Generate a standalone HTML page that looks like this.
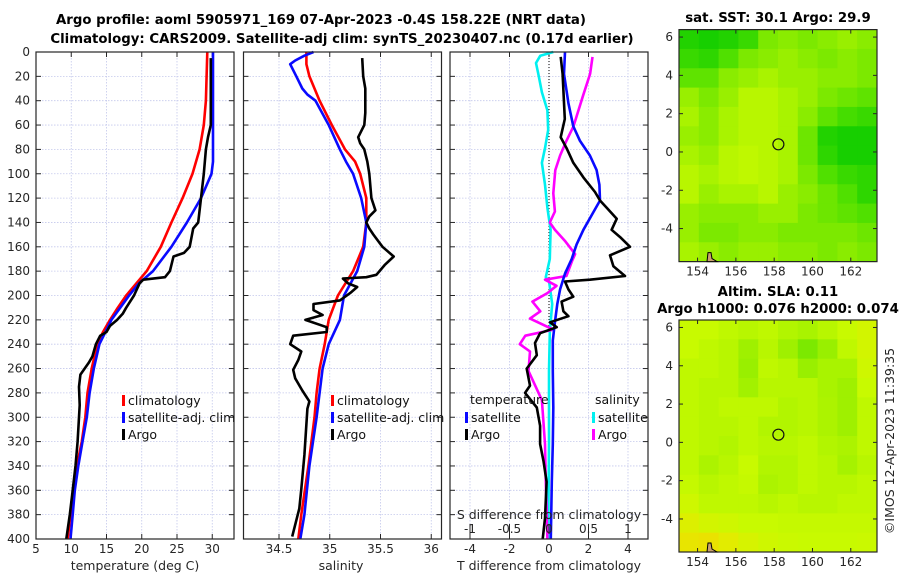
<!DOCTYPE html>
<html><head><meta charset="utf-8">
<style>
html,body{margin:0;padding:0;background:#fff;}
svg{display:block;font-family:"DejaVu Sans","Liberation Sans",sans-serif;}
.tk{font-size:12px;fill:#262626;}
.ttl{font-size:13.3px;font-weight:bold;fill:#000;}
.lg{font-size:12.5px;fill:#111;}
</style></head>
<body>
<svg id="fig" width="900" height="580" viewBox="0 0 900 580" xmlns="http://www.w3.org/2000/svg">
<text class="ttl" x="321" y="24" text-anchor="middle">Argo profile: aoml 5905971_169 07-Apr-2023 -0.4S 158.22E (NRT data)</text>
<text class="ttl" x="342" y="43" text-anchor="middle">Climatology: CARS2009. Satellite-adj clim: synTS_20230407.nc (0.17d earlier)</text>
<text class="ttl" x="778" y="22" text-anchor="middle">sat. SST: 30.1 Argo: 29.9</text>
<text class="ttl" x="778" y="296" text-anchor="middle">Altim. SLA: 0.11</text>
<text class="ttl" x="778" y="313" text-anchor="middle">Argo h1000: 0.076 h2000: 0.074</text>
<text class="tk" x="0" y="0" transform="translate(894,441) rotate(-90)" text-anchor="middle" style="font-size:12.5px">©IMOS 12-Apr-2023 11:39:35</text>
<g id="layer"></g>
</svg>
<script>
// ---------- data ----------
const depthTicks=[0,20,40,60,80,100,120,140,160,180,200,220,240,260,280,300,320,340,360,380,400];
const tempTicks=[5,10,15,20,25,30];
const salTicks=[34.5,35,35.5,36];
const salTickLabels=["34.5","35","35.5","36"];
const dTTicks=[-4,-2,0,2,4];
const dSTicks=[-1,-0.5,0,0.5,1];
const dSTickLabels=["-1","-0.5","0","0.5","1"];
const lonTicks=[154,156,158,160,162];
const latTicks=[6,4,2,0,-2,-4];

const climTDepth=[0,20,40,60,80,100,120,140,160,180,200,210,220,230,240,260,280,300,320,340,360,380,400];
const climT=[29.3,29.2,29.1,28.8,28.2,27.2,25.8,24.2,22.7,20.7,17.8,16.6,15.5,14.5,13.7,12.9,12.3,12.0,11.5,10.8,10.4,9.9,9.5];
const satTDepth=[0,20,60,90,100,120,140,160,180,190,200,220,240,260,280,300,320,340,360,380,400];
const satT=[30.1,30.1,30.1,30.1,29.9,28.4,26.4,24.2,21.6,19.6,18.2,15.7,14.0,13.2,12.6,12.2,11.6,11.0,10.5,10.2,9.9];
const argoTDepth=[5,60,70,80,100,130,140,145,160,165,168,180,185,187,190,200,210,215,220,225,230,233,240,250,255,260,265,275,290,300,320,340,360,380,400];
const argoT=[29.8,29.8,29.4,29.1,28.8,28.2,28.0,27.3,26.8,26.0,24.5,24.0,23.3,20.2,19.7,18.9,17.8,17.3,16.5,15.5,15.0,14.1,13.5,13.0,12.5,11.9,11.3,11.1,11.2,11.1,10.9,10.6,10.2,9.8,9.3];

const climSDepth=[0,10,20,40,60,80,90,100,120,140,160,180,200,220,240,260,280,300,340,380,400];
const climS=[34.77,34.77,34.8,34.9,35.02,35.15,35.25,35.3,35.36,35.36,35.33,35.23,35.08,34.99,34.95,34.9,34.87,34.85,34.79,34.72,34.69];
const satSDepth=[0,3,7,10,20,30,35,40,60,80,90,100,120,140,160,180,200,220,240,260,280,300,340,380,400];
const satS=[34.84,34.75,34.66,34.61,34.67,34.73,34.78,34.86,34.99,35.1,35.16,35.23,35.31,35.36,35.34,35.27,35.14,35.1,34.99,34.93,34.9,34.87,34.8,34.75,34.71];
const argoSDepth=[5,20,30,50,60,70,75,80,90,100,120,130,135,140,145,150,160,168,175,183,185,186,190,193,198,204,207,212,216,220,226,230,233,240,246,253,261,268,278,287,293,331,359,375,398];
const argoS=[35.32,35.33,35.35,35.35,35.34,35.28,35.3,35.34,35.37,35.39,35.41,35.45,35.39,35.36,35.39,35.43,35.52,35.63,35.54,35.46,35.36,35.13,35.18,35.27,35.2,35.1,34.84,34.84,34.93,34.76,34.97,34.97,34.64,34.61,34.72,34.69,34.64,34.66,34.73,34.8,34.78,34.75,34.72,34.7,34.63];

const argoDTDepth=[4,18,55,70,79,91,103,115,122,128,137,146,152,160,167,176,184,187,188.5,195,201,205,213,217,222,226,231,239,249,260,274,280,292,307,322,336,353,383,400];
const argoDT=[0.59,0.69,0.8,0.59,0.89,1.23,1.74,2.33,2.58,2.92,3.43,3.17,3.6,4.1,3.09,3.26,3.85,2.07,0.81,0.98,1.23,0.64,0.73,0.98,0.05,0.39,-0.45,-0.71,-0.62,-1.13,-0.96,-1.21,-0.62,-0.45,-0.45,-0.28,-0.12,-0.2,-0.32];
const satDTDepth=[0,18,42,61,73,85,97,109,122,134,146,158,170,182,195,207,222,237,262,292,322,353,400];
const satDT=[0.81,0.76,0.98,1.23,1.57,2.07,2.41,2.55,2.58,2.16,1.74,1.4,1.15,0.81,0.56,0.42,0.3,0.19,0.19,0.22,0.19,0.14,0.09];
const satDSDepth=[0,3,9,18,33,48,64,79,91,109,128,146,170,185,188,207,222,231,262,320,400];
const satDS=[0.055,-0.11,-0.165,-0.135,-0.09,-0.02,-0.01,-0.05,-0.09,-0.05,-0.02,0.02,0.01,-0.04,0.0,0.04,0.02,0.01,0.0,0.0,-0.01];
const argoDSDepth=[4,18,36,61,73,85,97,116,131,140,146,155,166,172,184,187,192,198,205,213,219,228,233,240,246,262,286,322,353,400];
const argoDS=[0.55,0.52,0.43,0.31,0.22,0.14,0.08,0.055,0.075,0.01,0.075,0.2,0.33,0.29,0.22,-0.05,0.095,-0.02,-0.21,-0.11,-0.24,0.055,-0.3,-0.37,-0.24,-0.26,-0.09,-0.05,-0.04,-0.02];

const sstGrid=[
[0.15,0.1,0.15,0.25,0.5,0.55,0.5,0.55,0.6,0.55],
[0.25,0.2,0.35,0.5,0.55,0.6,0.55,0.5,0.55,0.5],
[0.4,0.4,0.55,0.6,0.65,0.6,0.6,0.55,0.55,0.5],
[0.6,0.5,0.6,0.7,0.7,0.65,0.6,0.5,0.45,0.4],
[0.65,0.55,0.65,0.7,0.7,0.65,0.55,0.4,0.3,0.25],
[0.6,0.55,0.65,0.7,0.7,0.65,0.45,0.15,0.1,0.1],
[0.65,0.6,0.7,0.72,0.7,0.65,0.45,0.2,0.1,0.1],
[0.7,0.65,0.7,0.72,0.7,0.65,0.5,0.35,0.25,0.2],
[0.7,0.6,0.65,0.65,0.7,0.6,0.55,0.45,0.35,0.2],
[0.6,0.55,0.55,0.55,0.6,0.6,0.5,0.45,0.4,0.35],
[0.6,0.5,0.5,0.55,0.55,0.5,0.5,0.5,0.5,0.45],
[0.65,0.6,0.55,0.6,0.6,0.55,0.55,0.5,0.55,0.5]];
const slaGrid=[
[0.75,0.75,0.72,0.7,0.72,0.68,0.65,0.7,0.75,0.8],
[0.75,0.72,0.7,0.62,0.7,0.62,0.5,0.6,0.72,0.8],
[0.72,0.72,0.7,0.6,0.72,0.7,0.6,0.65,0.65,0.78],
[0.72,0.7,0.7,0.63,0.7,0.7,0.7,0.65,0.62,0.75],
[0.72,0.7,0.72,0.72,0.72,0.68,0.7,0.66,0.62,0.72],
[0.72,0.7,0.7,0.72,0.68,0.68,0.7,0.66,0.62,0.72],
[0.72,0.7,0.68,0.72,0.7,0.7,0.72,0.68,0.66,0.72],
[0.72,0.66,0.7,0.75,0.68,0.68,0.72,0.7,0.64,0.7],
[0.74,0.7,0.72,0.74,0.66,0.68,0.72,0.7,0.7,0.72],
[0.78,0.72,0.72,0.72,0.7,0.72,0.7,0.7,0.72,0.72],
[0.85,0.8,0.78,0.75,0.75,0.74,0.74,0.74,0.74,0.74],
[0.92,0.93,0.88,0.82,0.78,0.76,0.75,0.75,0.75,0.76]];
const argoLon=158.22, argoLat=0.4;

// ---------- helpers ----------
const NS="http://www.w3.org/2000/svg";
const layer=document.getElementById('layer');
function mk(tag,attrs,parent){const e=document.createElementNS(NS,tag);for(const k in attrs)e.setAttribute(k,attrs[k]);(parent||layer).appendChild(e);return e;}
const Y0=52,YS=(539-52)/400;
const yD=d=>Y0+d*YS;
const xT=t=>36+(t-5)*7.05;
const xS=s=>279+(s-34.5)*101.5;
const xDT=t=>549+t*19.75;
const xDS=s=>549+s*79;
const panels=[{l:36,r:234},{l:243.5,r:441.5},{l:450,r:648}];

function panelFrame(p,xs,xfn,labels,name){
  const g=mk('g',{});
  
  
  depthTicks.forEach(d=>{
    const l=mk('line',{x1:p.l,x2:p.r,y1:yD(d),y2:yD(d),stroke:'#c4c8ec','stroke-width':0.8,'stroke-dasharray':'1.5 1.5'},g);
    
    
    mk('line',{x1:p.l,x2:p.l+5,y1:yD(d),y2:yD(d),stroke:'#262626','stroke-width':1},g);
    mk('line',{x1:p.r-5,x2:p.r,y1:yD(d),y2:yD(d),stroke:'#262626','stroke-width':1},g);
  });
  xs.forEach((v,i)=>{
    const x=xfn(v);
    const l=mk('line',{x1:x,x2:x,y1:Y0,y2:539,stroke:'#c4c8ec','stroke-width':0.8,'stroke-dasharray':'1.5 1.5'},g);
    
    
    mk('line',{x1:x,x2:x,y1:539,y2:534,stroke:'#262626','stroke-width':1},g);
    mk('line',{x1:x,x2:x,y1:Y0,y2:Y0+5,stroke:'#262626','stroke-width':1},g);
    const t=mk('text',{x:x,y:553,'text-anchor':'middle',class:'tk'},g);
    t.textContent=labels[i];
    
    
  });
  return g;
}
function frameRect(p,name){
  const r=mk('rect',{x:p.l,y:Y0,width:p.r-p.l,height:539-Y0,fill:'none',stroke:'#262626','stroke-width':1.2});
  
  
}
function line(ds,vs,xfn,color,name,w){
  const pts=ds.map((d,i)=>xfn(vs[i]).toFixed(1)+','+yD(d).toFixed(1)).join(' ');
  const pl=mk('polyline',{points:pts,fill:'none',stroke:color,'stroke-width':w||2.6,'stroke-linejoin':'round'});
  
  
}
function text(x,y,s,cls,name,anchor){
  const t=mk('text',{x:x,y:y,class:cls,'text-anchor':anchor||'start'});
  t.textContent=s;
  
  
  return t;
}
function legendEntry(x,y,color,label){
  const g=mk('g',{});
  
  
  mk('rect',{x:x,y:y-10,width:3,height:11,fill:color},g);
  const t=mk('text',{x:x+6,y:y,class:'lg'},g);
  t.textContent=label;
}

depthTicks.forEach(d=>{ text(30,yD(d)+4,String(d),'tk','y-tick-label','end'); });

// panel 1
panelFrame(panels[0],tempTicks,xT,tempTicks.map(String),'temperature-panel');
line(climTDepth,climT,xT,'#ff0000','temperature-climatology-line');
line(satTDepth,satT,xT,'#0a0aff','temperature-satellite-line');
line(argoTDepth,argoT,xT,'#000000','temperature-argo-line');
frameRect(panels[0],'temperature-axes-box');
text(135,570,'temperature (deg C)','tk','x-axis-title-temperature','middle').style.fontSize='12.5px';
legendEntry(122,405,'#ff0000','climatology');
legendEntry(122,422,'#0a0aff','satellite-adj. clim');
legendEntry(122,439,'#000000','Argo');

// panel 2
panelFrame(panels[1],salTicks,xS,salTickLabels,'salinity-panel');
line(climSDepth,climS,xS,'#ff0000','salinity-climatology-line');
line(satSDepth,satS,xS,'#0a0aff','salinity-satellite-line');
line(argoSDepth,argoS,xS,'#000000','salinity-argo-line');
frameRect(panels[1],'salinity-axes-box');
text(341,570,'salinity','tk','x-axis-title-salinity','middle').style.fontSize='12.5px';
legendEntry(331,405,'#ff0000','climatology');
legendEntry(331,422,'#0a0aff','satellite-adj. clim');
legendEntry(331,439,'#000000','Argo');

// panel 3
panelFrame(panels[2],dTTicks,xDT,dTTicks.map(String),'difference-panel');
const zl=mk('line',{x1:xDT(0),x2:xDT(0),y1:Y0,y2:539,stroke:'#000','stroke-width':1,'stroke-dasharray':'1 2'});


line(satDSDepth,satDS,xDS,'#00f0f0','salinity-diff-satellite-line');
line(argoDSDepth,argoDS,xDS,'#ff00ff','salinity-diff-argo-line');
line(satDTDepth,satDT,xDT,'#0a0aff','temperature-diff-satellite-line');
line(argoDTDepth,argoDT,xDT,'#000000','temperature-diff-argo-line');
frameRect(panels[2],'difference-axes-box');
text(549,570,'T difference from climatology','tk','x-axis-title-t-difference','middle').style.fontSize='12.5px';
text(549,519,'S difference from climatology','tk','s-axis-title','middle').style.fontSize='12.5px';
dSTicks.forEach((v,i)=>{
  mk('line',{x1:xDS(v),x2:xDS(v),y1:524,y2:534,stroke:'#262626','stroke-width':1});
  text(xDS(v),533,dSTickLabels[i],'tk','s-tick-label','middle');
});
text(470,404,'temperature','lg','legend-title-temperature');
legendEntry(465,422,'#0a0aff','satellite');
legendEntry(465,439,'#000000','Argo');
text(595,404,'salinity','lg','legend-title-salinity');
legendEntry(592,422,'#00f0f0','satellite');
legendEntry(592,439,'#ff00ff','Argo');

// ---------- maps ----------
const cmapStops=[[0,[0,200,0]],[0.35,[80,224,0]],[0.6,[153,239,0]],[0.75,[200,250,0]],[0.9,[230,234,0]],[1,[242,208,0]]];
function cmap(v){
  for(let i=1;i<cmapStops.length;i++){
    if(v<=cmapStops[i][0]){const a=cmapStops[i-1],b=cmapStops[i];const f=(v-a[0])/(b[0]-a[0]);
      const c=a[1].map((x,k)=>Math.round(x+(b[1][k]-x)*f));return 'rgb('+c.join(',')+')';}
  }
  return 'rgb(242,208,0)';
}
const MAPL=679,MAPR=877,LON0=153.03,LAT0=6.39,DS=19.15;
function drawMap(top,grid,name){
  const bottom=top+232;
  const xL=lon=>MAPL+(lon-LON0)*DS;
  const yL=lat=>top+(LAT0-lat)*DS;
  const g=mk('g',{});
  
  
  const rows=grid.length,cols=grid[0].length;
  const cw=(MAPR-MAPL)/cols,ch=232/rows;
  grid.forEach((row,r)=>row.forEach((v,c)=>{
    const rc=mk('rect',{x:(MAPL+c*cw).toFixed(2),y:(top+r*ch).toFixed(2),width:(cw+0.5).toFixed(2),height:(ch+0.5).toFixed(2),fill:cmap(v)},g);
    
    
  }));
  mk('rect',{x:MAPL,y:top,width:MAPR-MAPL,height:232,fill:'none',stroke:'#262626','stroke-width':1.2},g);
  lonTicks.forEach(lon=>{
    const x=xL(lon);
    mk('line',{x1:x,x2:x,y1:bottom,y2:bottom-4,stroke:'#262626'},g);
    mk('line',{x1:x,x2:x,y1:top,y2:top+4,stroke:'#262626'},g);
    const t=mk('text',{x:x,y:bottom+14,'text-anchor':'middle',class:'tk'},g);
    t.textContent=String(lon);
    
    
  });
  latTicks.forEach(lat=>{
    const y=yL(lat);
    mk('line',{x1:MAPL,x2:MAPL+4,y1:y,y2:y,stroke:'#262626'},g);
    mk('line',{x1:MAPR-4,x2:MAPR,y1:y,y2:y,stroke:'#262626'},g);
    const t=mk('text',{x:MAPL-6,y:y+4,'text-anchor':'end',class:'tk'},g);
    t.textContent=String(lat);
    
    
  });
  const c=mk('circle',{cx:xL(argoLon),cy:yL(argoLat),r:5.5,fill:'none',stroke:'#111','stroke-width':1.2},g);
  
  
  mk('path',{d:`M${MAPL+28},${bottom} l1,-9 l3,0 l1,6 l5,3 z`,fill:'#c8a070',stroke:'#000','stroke-width':1},g);
}
drawMap(29.6,sstGrid,'sst-map');
drawMap(320,slaGrid,'sla-map');
</script>
</body></html>
